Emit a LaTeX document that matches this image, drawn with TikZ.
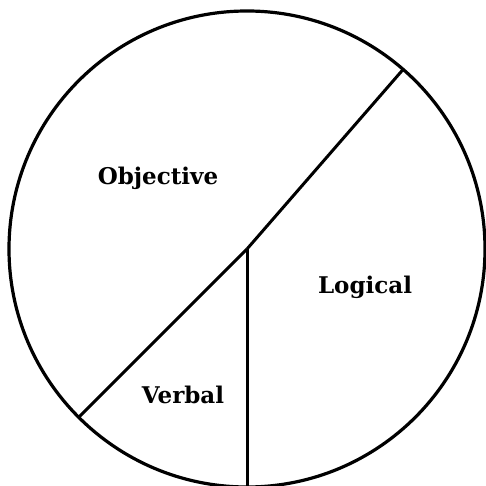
\documentclass[tikz,border=0pt]{standalone}
\usepackage{fontspec}
\setmainfont{DejaVu Serif}
\usepackage{tikz}
\usetikzlibrary{positioning, calc}

\begin{document}
\begin{tikzpicture}[
    x=1pt, y=1pt,
    rim/.style={line width=3.2pt},
    cut/.style={line width=3pt},
    every node/.style={font=\fontsize{23}{26}\selectfont\bfseries},
]
    \useasboundingbox (0,0) rectangle (486,485);

    \coordinate (C) at (247,236);
    \draw[rim] (C) circle (238);

    \coordinate (T1) at ($(C)+(49:238)$);
    \coordinate (T2) at ($(C)+(225:238)$);
    \coordinate (T3) at ($(C)+(270:238)$);

    \draw[cut] (C) -- (T1);
    \draw[cut] (C) -- (T2);
    \draw[cut] (C) -- (T3);

    \node (obj) at (158,307) {Objective};
    \node (log) at (365,198) {Logical};
    \node (ver) at (183,90) {Verbal};

\end{tikzpicture}
\end{document}
